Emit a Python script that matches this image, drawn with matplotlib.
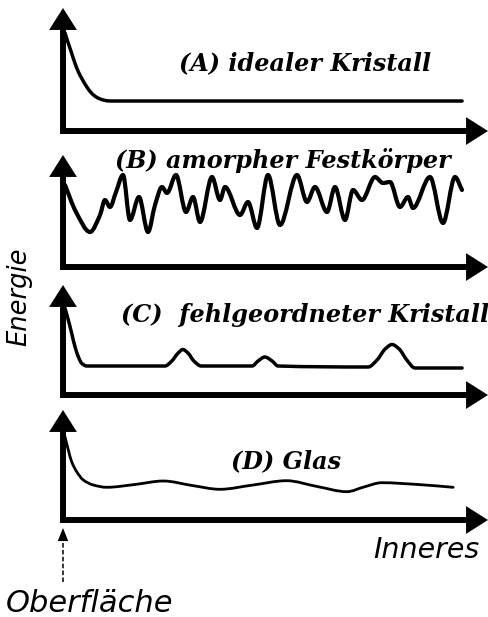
import matplotlib
matplotlib.use("Agg")
import matplotlib.pyplot as plt
import numpy as np
from matplotlib.path import Path
from matplotlib.patches import PathPatch

# ---------------- data (depth 0..100, energy in arbitrary units) ----------------
titles = ["(A) idealer Kristall", "(B) amorpher Festkörper",
          "(C)  fehlgeordneter Kristall", "(D) Glas"]

depth_A = [0.47, 1.25, 2.04, 2.82, 3.6, 4.4, 5.57, 6.75, 7.93, 9.48, 11.06, 93.9]
energy_A = [98, 87.7, 77.7, 67.7, 59.3, 52.7, 44.3, 37.7, 33.7, 31, 30, 30]

depth_B = [0.47, 3.06, 6.35, 8.71, 9.88, 11.06, 12.47, 14.12, 15.76, 17.88, 20.0,
           21.65, 23.29, 24.47, 26.59, 28.94, 30.59, 32.24, 35.06, 36.94, 38.12,
           41.65, 43.53, 45.65, 48.24, 51.06, 55.06, 57.41, 59.29, 62.12, 64.0,
           66.35, 68.24, 70.35, 73.41, 75.29, 76.94, 79.29, 81.18, 82.35, 86.35,
           89.41, 92.24, 93.88]
energy_B = [82, 55, 35, 52, 67, 60, 75, 92, 47, 70, 35,
            62, 80, 74, 92, 55, 70, 45, 90, 67, 80,
            52, 65, 39, 92, 42, 92, 65, 80, 55, 80,
            47, 77, 67, 90, 84, 85, 60, 70, 59, 90,
            44, 90, 77]

depth_C = [0.47, 1.25, 2.04, 2.82, 3.6, 4.4, 5.58, 24.0, 25.6, 27.1, 28.2, 29.4,
           30.8, 32.5, 44.5, 45.9, 47.5, 49.2, 50.6, 71.8, 73.9, 75.8, 77.4, 79.1,
           80.9, 82.8, 93.9]
energy_C = [86.7, 75, 61.7, 48.3, 38.3, 31.7, 29, 29, 34, 42, 45.5, 42,
            34, 29, 29, 34, 38, 34, 29, 28, 35, 46, 50.5, 46,
            35, 27, 27]

depth_D = [0.47, 1.25, 2.04, 3.22, 4.78, 7.13, 10.28, 16.9, 23.6, 30.4, 36.9,
           44.7, 52.6, 59.8, 66.8, 70.8, 75.0, 83.5, 91.8]
energy_D = [83.3, 70, 58.3, 48.3, 40, 35, 32.7, 35.5, 39, 34.5, 30.7,
            35, 39.3, 33.5, 28.3, 33, 37.3, 35.5, 32.7]

# ---------------- layout ----------------
W, H = 489, 617
fig = plt.figure(figsize=(W / 100, H / 100), dpi=100)
fig.patch.set_facecolor("white")

# (axis line y px, arrow tip y px)
panel_px = [(131, 8), (267, 155), (395, 285), (520, 410)]
left_px, right_px = 63, 488
series = [(depth_A, energy_A, 2.5), (depth_B, energy_B, 3.0),
          (depth_C, energy_C, 2.5), (depth_D, energy_D, 2.0)]
title_pos = [(305, 70), (283, 168), (305, 322), (286, 468)]

SERIF = dict(family="DejaVu Serif", style="italic", weight="bold", size=17.2)
SANS = dict(family="DejaVu Sans", style="italic")


def pchip_path(x, y):
    x = np.asarray(x, float)
    y = np.asarray(y, float)
    h = np.diff(x)
    s = np.diff(y) / h
    n = len(x)
    m = np.zeros(n)
    m[0], m[-1] = s[0], s[-1]
    for i in range(1, n - 1):
        if s[i - 1] * s[i] <= 0:
            m[i] = 0.0
        else:
            w1 = 2 * h[i] + h[i - 1]
            w2 = h[i] + 2 * h[i - 1]
            m[i] = (w1 + w2) / (w1 / s[i - 1] + w2 / s[i])
    verts = [(x[0], y[0])]
    codes = [Path.MOVETO]
    for i in range(n - 1):
        verts += [(x[i] + h[i] / 3, y[i] + m[i] * h[i] / 3),
                  (x[i + 1] - h[i] / 3, y[i + 1] - m[i + 1] * h[i] / 3),
                  (x[i + 1], y[i + 1])]
        codes += [Path.CURVE4] * 3
    return Path(verts, codes)


axes = []
for (axis_y, tip_y), (dx, ey, lw), title, (tx, ty) in zip(panel_px, series, titles, title_pos):
    hpx = axis_y - tip_y
    wpx = right_px - left_px
    ax = fig.add_axes([left_px / W, 1 - axis_y / H, wpx / W, hpx / H])
    ax.set_xlim(0, 100)
    ax.set_ylim(0, hpx)
    ax.axis("off")
    # axis shafts
    ax.plot([0, 0], [-3 / hpx, 1 - 12 / hpx], transform=ax.transAxes, color="black",
            lw=4.3, solid_capstyle="butt", clip_on=False)
    ax.plot([-3 / wpx, 1 - 12 / wpx], [0, 0], transform=ax.transAxes, color="black",
            lw=4.3, solid_capstyle="butt", clip_on=False)
    # arrow heads
    head = dict(arrowstyle="-|>,head_length=1.58,head_width=1.0", mutation_scale=10,
                lw=0, color="black", shrinkA=0, shrinkB=0)
    ax.annotate("", xy=(0, 1), xytext=(0, 0.5), xycoords="axes fraction",
                textcoords="axes fraction", arrowprops=head, annotation_clip=False)
    ax.annotate("", xy=(1, 0), xytext=(0.5, 0), xycoords="axes fraction",
                textcoords="axes fraction", arrowprops=head, annotation_clip=False)
    # curve
    ax.add_patch(PathPatch(pchip_path(dx, ey), fill=False, edgecolor="black", lw=lw,
                           capstyle="round", joinstyle="round", clip_on=False))
    fig.text(tx / W, 1 - ty / H, title, ha="center", va="baseline", color="black", **SERIF)
    axes.append(ax)

# surface marker (dashed arrow below panel D)
axD = axes[-1]
hD = panel_px[-1][0] - panel_px[-1][1]
axD.plot([0, 0], [-(582 - 520) / hD, -(541 - 520) / hD], transform=axD.transAxes,
         color="black", lw=1.1, dashes=(3, 1.5), clip_on=False)
axD.annotate("", xy=(0, -(528 - 520) / hD), xytext=(0, -(545 - 520) / hD),
             xycoords="axes fraction", textcoords="axes fraction",
             arrowprops=dict(arrowstyle="-|>,head_length=0.94,head_width=0.38",
                             mutation_scale=10, lw=0, color="black",
                             shrinkA=0, shrinkB=0), annotation_clip=False)

fig.text(426 / W, 1 - 558 / H, "Inneres", ha="center", va="baseline", size=20.5, **SANS)
fig.text(90 / W, 1 - 612 / H, "Oberfläche", ha="center", va="baseline", size=22, **SANS)
fig.text(26 / W, 1 - 297 / H, "Energie", ha="center", va="baseline", size=18.5,
         rotation=90, rotation_mode="anchor", **SANS)

fig.savefig("out.png", dpi=100, facecolor="white")
